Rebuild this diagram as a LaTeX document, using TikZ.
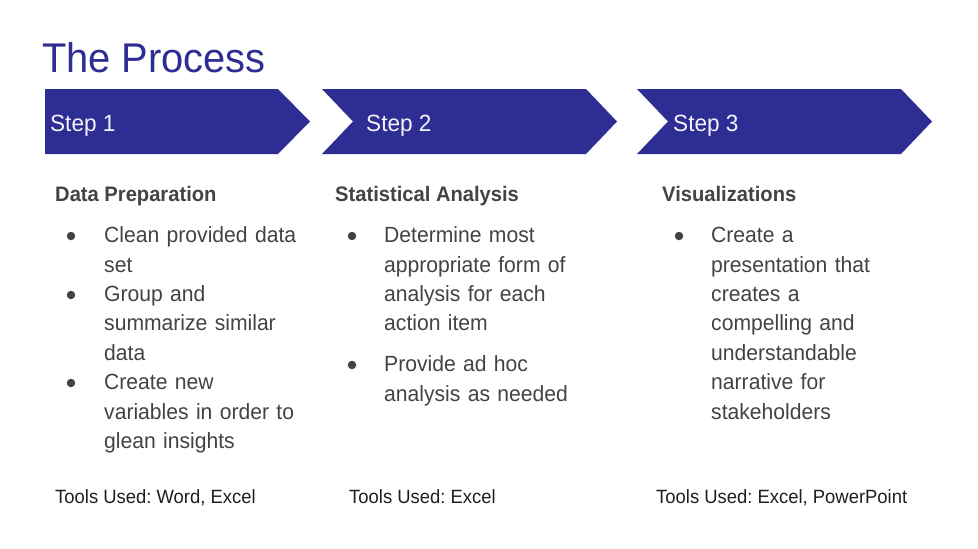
\documentclass[tikz,border=0pt]{standalone}
\usepackage{fontspec}
\setmainfont{Liberation Sans}[FakeStretch=0.96]
\usepackage{tikz}
\frenchspacing
\definecolor{procblue}{HTML}{2E2D93}
\definecolor{bodygrey}{HTML}{434343}
\definecolor{notegrey}{HTML}{1F1F1F}
\tikzset{
  chevron/.style={fill=procblue},
  steplabel/.style={anchor=base west, inner sep=0pt, text=white!94!procblue,
    font=\fontsize{23.5}{28}\selectfont},
  colhead/.style={anchor=base west, inner sep=0pt, text=bodygrey,
    font=\bfseries\fontsize{21}{25}\selectfont},
  itemtext/.style={anchor=base west, inner sep=0pt, text=bodygrey,
    text width=250pt, align=left, font=\fontsize{22}{29.4}\selectfont},
  bulletdot/.style={circle, fill=bodygrey, inner sep=0pt, minimum size=8.5pt},
  toolsnote/.style={anchor=base west, inner sep=0pt, text=notegrey,
    font=\fontsize{19.2}{23}\selectfont}
}

\begin{document}
\begin{tikzpicture}[x=1pt,y=-1pt]
    \fill[white] (0,0) rectangle (978,549);
    \useasboundingbox (0,0) rectangle (978,549);
    \node[anchor=base west, inner sep=0pt, text=procblue,
      font=\fontsize{41.5}{48}\selectfont] at (42, 72.5) (title) {The Process};
    % the three chevrons
    \fill[chevron] (45,89)--(278,89)--(310,121.5)--(278,154)--(45,154)--cycle;
    \fill[chevron] (322,89)--(586,89)--(617,121.5)--(586,154)--(322,154)--(353,121.5)--cycle;
    \fill[chevron] (637,89)--(901,89)--(932,121.5)--(901,154)--(637,154)--(668,121.5)--cycle;
    \node[steplabel] at (50, 131)   (s1) {Step 1};
    \node[steplabel] at (366, 131)  (s2) {Step 2};
    \node[steplabel] at (673, 131)  (s3) {Step 3};
    % column headings
    \node[colhead] at (55, 201.7)   (h1) {Data Preparation};
    \node[colhead] at (335, 201.7)  (h2) {Statistical Analysis};
    \node[colhead] at (662, 201.7)  (h3) {Visualizations};
    % bullet items
    \node[bulletdot] at (71, 236)   (b11) {};
    \node[itemtext] at (104, 242.7) (i11) {Clean provided data\\set};
    \node[bulletdot] at (71, 295)   (b12) {};
    \node[itemtext] at (104, 301.5) (i12) {Group and\\summarize similar\\data};
    \node[bulletdot] at (71, 383)   (b13) {};
    \node[itemtext] at (104, 389.7) (i13) {Create new\\variables in order to\\glean insights};
    \node[bulletdot] at (352, 236)  (b21) {};
    \node[itemtext] at (384, 242.7) (i21)
    {Determine most\\appropriate form of\\analysis for each\\action item};
    \node[bulletdot] at (352, 365)  (b22) {};
    \node[itemtext] at (384, 371.7) (i22) {Provide ad hoc\\analysis as needed};
    \node[bulletdot] at (679, 236)  (b31) {};
    \node[itemtext] at (711, 242.7) (i31)
    {Create a\\presentation that\\creates a\\compelling and\\understandable\\narrative for\\stakeholders};
    % tools used
    \node[toolsnote] at (55, 503.3)  (t1) {Tools Used: Word, Excel};
    \node[toolsnote] at (349, 503.3) (t2) {Tools Used: Excel};
    \node[toolsnote] at (656, 503.3) (t3) {Tools Used: Excel, PowerPoint};
    \end{tikzpicture}
\end{document}
